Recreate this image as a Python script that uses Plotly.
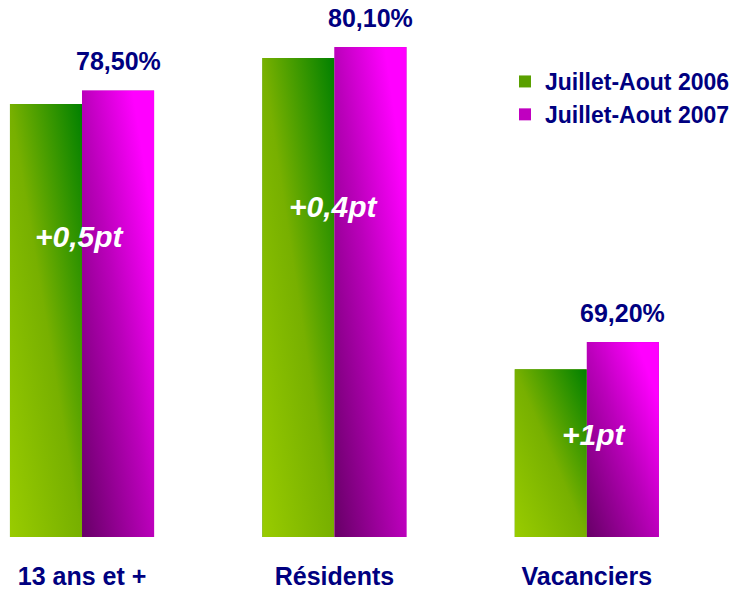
import base64
import plotly.graph_objects as go

categories = ["13 ans et +", "Résidents", "Vacanciers"]
series_names = ["Juillet-Aout 2006", "Juillet-Aout 2007"]
values_2006 = [78.0, 79.7, 68.2]
values_2007 = [78.5, 80.1, 69.2]

# ---- styling / layout constants ----
NAVY = "#000080"
FONT = "Liberation Sans, Arial, sans-serif"
BAR_W = 2 / 7
Y_MIN, Y_MAX = 62, 81.84
X_MIN, X_MAX = -0.325, 2.5714
delta_label_y = [73.1, 74.2, 65.8]
delta_label_dx = [-2, 0, 8]

grad_green = [(0, "#99cc00"), (0.5, "#77b000"), (1, "#008000")]
grad_magenta = [(0, "#660066"), (0.5, "#bb00bb"), (0.85, "#ff00ff"), (1, "#ff00ff")]


def grad_uri(stops):
    st = "".join(f"<stop offset='{o}' stop-color='{c}'/>" for o, c in stops)
    svg = ("<svg xmlns='http://www.w3.org/2000/svg' width='100' height='100' "
           "viewBox='0 0 100 100' preserveAspectRatio='none'><defs>"
           "<linearGradient id='g' x1='0' y1='1' x2='1' y2='0'>" + st +
           "</linearGradient></defs><rect width='100' height='100' fill='url(#g)'/></svg>")
    return "data:image/svg+xml;base64," + base64.b64encode(svg.encode()).decode()


x_pos = list(range(len(categories)))

fig = go.Figure()
fig.add_trace(go.Bar(x=x_pos, y=values_2006, name=series_names[0], width=BAR_W,
                     offset=-BAR_W, marker=dict(color="#5aa000", line_width=0)))
fig.add_trace(go.Bar(x=x_pos, y=values_2007, name=series_names[1], width=BAR_W,
                     offset=0, marker=dict(color="#c000c0", line_width=0)))

images = []
for i, (a, b) in enumerate(zip(values_2006, values_2007)):
    for left, val, stops in ((i - BAR_W, a, grad_green), (i, b, grad_magenta)):
        images.append(dict(source=grad_uri(stops), xref="x", yref="y", x=left, y=val,
                           sizex=BAR_W, sizey=val - Y_MIN, sizing="stretch",
                           xanchor="left", yanchor="top", layer="above"))

annotations = []
for i, v in enumerate(values_2007):
    annotations.append(dict(x=i + BAR_W / 2, y=v, xref="x", yref="y",
                            text=f"{v:.2f}".replace(".", ",") + "%", showarrow=False,
                            yanchor="middle", yshift=29,
                            font=dict(family=FONT, size=25, color=NAVY, weight="bold")))
for i, (a, b) in enumerate(zip(values_2006, values_2007)):
    d = round(b - a, 1)
    txt = ("+" if d >= 0 else "") + (f"{d:g}").replace(".", ",") + "pt"
    annotations.append(dict(x=i, y=delta_label_y[i], xref="x", yref="y", text=txt,
                            showarrow=False, yanchor="middle", xshift=delta_label_dx[i],
                            font=dict(family=FONT, size=30, color="white",
                                      weight="bold", style="italic")))

fig.update_layout(
    width=735, height=589,
    margin=dict(l=0, r=0, t=0, b=52),
    paper_bgcolor="white", plot_bgcolor="white",
    barmode="overlay",
    showlegend=True,
    legend=dict(x=508 / 735, y=1 - 60 / 537, xanchor="left", yanchor="top",
                bgcolor="rgba(0,0,0,0)",
                font=dict(family=FONT, size=23, color=NAVY, weight="bold"),
                traceorder="normal"),
    xaxis=dict(range=[X_MIN, X_MAX], tickvals=x_pos, ticktext=categories,
               showgrid=False, zeroline=False, showline=False, ticks="",
               tickfont=dict(family=FONT, size=25, color=NAVY, weight="bold"),
               ticklabelstandoff=22),
    yaxis=dict(range=[Y_MIN, Y_MAX], visible=False),
    images=images,
    annotations=annotations,
)

fig.write_html("out.html", config={"displayModeBar": False},
               post_script="document.body.style.margin='0';document.body.style.overflow='hidden';")
